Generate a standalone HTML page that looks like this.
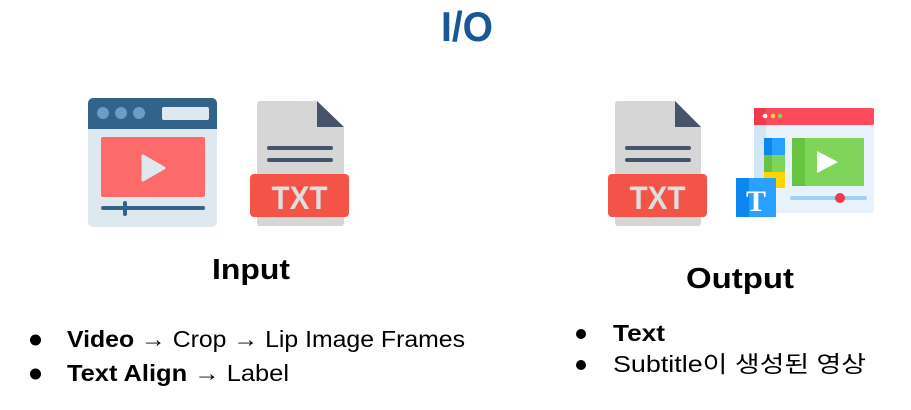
<!DOCTYPE html>
<html><head><meta charset="utf-8"><style>
html,body{margin:0;padding:0;background:#fff;width:911px;height:410px;overflow:hidden}
svg{display:block}
text{font-family:"Liberation Sans","Noto Sans CJK KR",sans-serif}
</style></head><body>
<svg width="911" height="410" viewBox="0 0 911 410" xmlns="http://www.w3.org/2000/svg">
<text x="467" y="41" text-anchor="middle" font-size="42" font-weight="bold" fill="#1a5797" textLength="52" lengthAdjust="spacingAndGlyphs">I/O</text>

<!-- left browser -->
<rect x="88" y="98" width="129" height="129" rx="5" fill="#dde8ef"/>
<path d="M93 98h119a5 5 0 0 1 5 5v26H88v-26a5 5 0 0 1 5-5z" fill="#33628a"/>
<circle cx="103" cy="113" r="6" fill="#6b9dc6"/><circle cx="121" cy="113" r="6" fill="#6b9dc6"/><circle cx="139" cy="113" r="6" fill="#6b9dc6"/>
<rect x="162" y="107" width="47" height="13" rx="2" fill="#dde8ef"/>
<rect x="101" y="137" width="104" height="60" rx="2" fill="#fd6a6a"/>
<path d="M143 156L164 168L143 180Z" fill="#dde8ef" stroke="#dde8ef" stroke-linejoin="round" stroke-width="3"/>
<line x1="103" y1="208" x2="203" y2="208" stroke="#33628a" stroke-width="4" stroke-linecap="round"/>
<line x1="125" y1="203" x2="125" y2="214" stroke="#33628a" stroke-width="4" stroke-linecap="round"/>

<!-- left TXT -->
<path d="M260 101h57l27 26v96a3 3 0 0 1-3 3h-81a3 3 0 0 1-3-3v-119a3 3 0 0 1 3-3z" fill="#d6d6d6"/>
<path d="M317 101l27 26h-27z" fill="#46536b"/>
<line x1="269" y1="148" x2="331" y2="148" stroke="#46536b" stroke-width="4" stroke-linecap="round"/>
<line x1="269" y1="160" x2="331" y2="160" stroke="#46536b" stroke-width="4" stroke-linecap="round"/>
<rect x="250" y="174" width="99" height="43" rx="4" fill="#f45447"/>
<text x="299.5" y="209" text-anchor="middle" font-size="32" font-weight="bold" fill="#dedede" textLength="56" lengthAdjust="spacingAndGlyphs">TXT</text>

<!-- right TXT -->
<path d="M618 101h57l26 26v96a3 3 0 0 1-3 3h-80a3 3 0 0 1-3-3v-119a3 3 0 0 1 3-3z" fill="#d6d6d6"/>
<path d="M675 101l26 26h-26z" fill="#46536b"/>
<line x1="627" y1="148" x2="689" y2="148" stroke="#46536b" stroke-width="4" stroke-linecap="round"/>
<line x1="627" y1="160" x2="689" y2="160" stroke="#46536b" stroke-width="4" stroke-linecap="round"/>
<rect x="608" y="174" width="99" height="43" rx="4" fill="#f45447"/>
<text x="657.5" y="209" text-anchor="middle" font-size="32" font-weight="bold" fill="#dedede" textLength="56" lengthAdjust="spacingAndGlyphs">TXT</text>

<!-- right browser -->
<rect x="754" y="108" width="120" height="105" rx="2" fill="#e7f2fd"/>
<rect x="754" y="125" width="12" height="88" fill="#d3e6f8"/>
<rect x="754" y="108" width="120" height="17" rx="2" fill="#fe4a5a"/>
<rect x="754" y="108" width="12" height="17" fill="#f0394a"/>
<circle cx="765" cy="116" r="2.3" fill="#fff"/><circle cx="773" cy="116" r="2.3" fill="#ffcc33"/><circle cx="780" cy="116" r="2.3" fill="#7fd45a"/>
<rect x="764" y="138" width="21" height="17" fill="#28a0fd"/><rect x="764" y="138" width="8" height="17" fill="#0b87ef"/>
<rect x="764" y="155" width="21" height="17" fill="#7fd45a"/><rect x="764" y="155" width="8" height="17" fill="#67c440"/>
<rect x="764" y="172" width="21" height="16" fill="#ffd400"/>
<rect x="792" y="138" width="72" height="48" fill="#7fd45a"/>
<rect x="792" y="138" width="13" height="48" fill="#67c440"/>
<path d="M817 151L838 162L817 173Z" fill="#fff"/>
<line x1="792" y1="198" x2="865" y2="198" stroke="#9fd0fb" stroke-width="4" stroke-linecap="round"/>
<circle cx="840" cy="198" r="5" fill="#f0394a"/>
<rect x="736" y="178" width="40" height="39" fill="#28a0fd"/>
<rect x="736" y="178" width="13" height="39" fill="#0b87ef"/>
<text x="756" y="211" text-anchor="middle" font-size="30" font-weight="bold" fill="#fff" font-family="Liberation Serif,serif" style="font-family:'Liberation Serif',serif">T</text>

<!-- labels -->
<text x="251" y="279" text-anchor="middle" font-size="29" font-weight="bold" fill="#000" textLength="78" lengthAdjust="spacingAndGlyphs">Input</text>
<text x="740" y="288" text-anchor="middle" font-size="29" font-weight="bold" fill="#000" textLength="108" lengthAdjust="spacingAndGlyphs">Output</text>

<circle cx="35.5" cy="340" r="5.5" fill="#000"/>
<text x="67" y="347" font-size="23" fill="#000" textLength="398" lengthAdjust="spacingAndGlyphs"><tspan font-weight="bold">Video</tspan> → Crop → Lip Image Frames</text>
<circle cx="35.5" cy="374" r="5.5" fill="#000"/>
<text x="67" y="381" font-size="23" fill="#000" textLength="222" lengthAdjust="spacingAndGlyphs"><tspan font-weight="bold">Text Align</tspan> → Label</text>

<circle cx="581" cy="334" r="5" fill="#000"/>
<text x="613" y="341" font-size="23" font-weight="bold" fill="#000" textLength="52" lengthAdjust="spacingAndGlyphs">Text</text>
<circle cx="581" cy="365" r="5" fill="#000"/>
<text x="613" y="372" font-size="23" fill="#000" textLength="253" lengthAdjust="spacingAndGlyphs">Subtitle이 생성된 영상</text>
</svg>
</body></html>
